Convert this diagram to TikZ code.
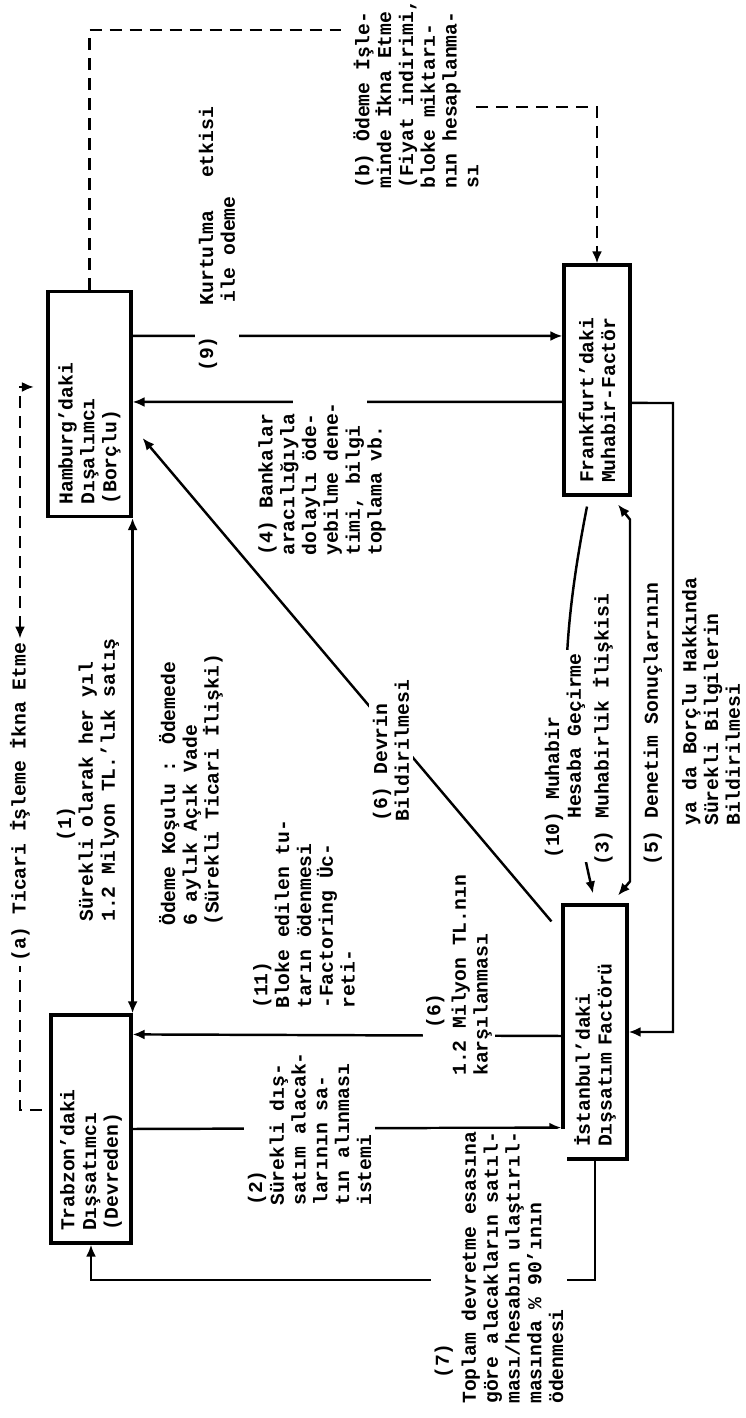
\documentclass[tikz,border=0pt]{standalone}
\usepackage{fontspec}
\setmainfont{Liberation Mono}
\usetikzlibrary{arrows.meta,calc}
\tikzset{
  box/.style={draw, line width=0.9pt, inner xsep=0.12cm, inner ysep=0pt, align=left},
  lbl/.style={align=left, inner sep=1pt, anchor=west},
  lblw/.style={lbl, fill=white},
  conn/.style={line width=0.7pt},
  dsh/.style={line width=0.7pt, dash pattern=on 0.12cm off 0.08cm},
  >={Latex[length=1.2mm,width=1mm]}
}
\begin{document}
\begin{tikzpicture}[rotate=90, transform shape, font=\fontsize{5.6}{6.2}\selectfont\bfseries]
\useasboundingbox (0,0) rectangle (14.18,7.46);
% Boxes
\node[box, text width=2.01cm, minimum height=0.83cm] (ham) at (10.14,6.565) {Hamburg'daki\\Dışalımcı\\(Borçlu)};
\node[box, text width=2.06cm, minimum height=0.66cm] (frank) at (10.38,1.49) {Frankfurt'daki\\Muhabir-Factör};
\node[box, text width=2.04cm, minimum height=0.80cm] (trab) at (2.89,6.55) {Trabzon'daki\\Dışsatımcı\\(Devreden)};
\node[box, text width=2.30cm, minimum height=0.64cm] (ist) at (3.86,1.51) {İstanbul'daki\\Dışsatım Factörü};

% Free labels
\node[lbl] (sales) at (4.92,6.58) {\hspace*{0.8cm}(1)\\Sürekli olarak her yıl\\1.2 Milyon TL.'lık satış};
\node[lbl] (terms) at (4.88,5.55) {Ödeme Koşulu : Ödemede\\6 aylık Açık Vade\\(Sürekli Ticari İlişki)};
\node[lbl] (fee) at (4.05,4.42) {(11)\\Bloke edilen tu-\\tarın ödenmesi\\-Factoring Üc-\\reti-};
\node[lbl] (check) at (8.58,4.24) {(4) Bankalar\\aracılığıyla\\dolaylı öde-\\yebilme dene-\\timi, bilgi\\toplama vb.};

% Solid connectors
\draw[conn,<->] (ham.south west) -- (trab.south east);
\draw[conn,->] (trab.south) -- ($(ist.north west)+(0.33,0)$);
\draw[conn,->] ($(ist.north)+(-0.04,0)$) -- ($(trab.south east)+(-0.21,0)$);
\draw[conn,->] (ist.west) -- (1.38,1.51) -- (1.38,6.55) -- (trab.west);
\draw[conn,<->] ($(ist.east)+(0.08,-0.23)$) -- ($(ist.east)+(0.22,-0.35)$) -- ($(frank.west)+(-0.23,-0.33)$) -- ($(frank.west)+(-0.08,-0.21)$);
\draw[conn,->] ($(frank.south)+(-0.23,0)$) -- (10.15,0.73) -- (3.86,0.73) -- (ist.south);
\coordinate (g4a) at (10.16,4.53);
\coordinate (g4b) at (10.16,3.79);
\draw[conn] ($(frank.north)+(-0.22,0)$) -- (g4b);
\draw[conn,->] (g4a) -- ($(ham.south)+(0.02,0)$);
\draw[conn,->] ($(ham.south)+(0.68,0)$) -- ($(frank.north)+(0.44,0)$);
\draw[conn,->] ($(ist.north east)+(-0.18,0.1)$) -- ($(ham.south west)+(0.8,-0.1)$);
\draw[conn,->] ($(frank.west)+(-0.1,0.1)$) to[bend right=12] ($(ist.east)+(0.1,0.02)$);

% Dashed (a)
\coordinate (a1) at (3.08,7.04);
\coordinate (a2) at (10.31,7.12);
\node[lblw] (ticari) at (4.52,7.26) {(a) Ticari İşleme İkna Etme};
\draw[dsh,<->] (a1) -- (3.08,7.26) -- (ticari) -- (10.31,7.26) -- (a2);

% Dashed (b)
\coordinate (b1) at (13.88,4.05);
\coordinate (b2) at (13.11,2.70);
\draw[dsh] (ham.east) -- (13.88,6.565) -- (b1);
\draw[dsh,->] (b2) -- (13.11,1.49) -- (frank.east);
\node[lbl] (persuade) at (12.25,3.30) {(b) Ödeme İşle-\\minde İkna Etme\\(Fiyat indirimi,\\bloke miktarı-\\nın hesaplanma-\\sı};

% Labels on the lines
\node[lblw] (req) at (2.08,4.365) {(2)\\Sürekli dış-\\satım alacak-\\larının sa-\\tın alınması\\istemi};
\node[lblw] (pay) at (3.38,2.87) {\hspace*{0.47cm}(6)\\[1pt]1.2 Milyon TL.nın\\karşılanması};
\node[lblw] (adv) at (0.10,2.47) {\hspace*{0.25cm}(7)\\[1.5pt]Toplam devretme esasına\\göre alacakların satıl-\\ması/hesabın ulaştırıl-\\masında \% 90'ının\\ödenmesi};
\node[lblw] (notice) at (5.92,3.55) {(6) Devrin\\Bildirilmesi};
\node[lblw] (disch) at (10.42,5.29) {(9)\hspace{0.31cm}Kurtulma\hspace{0.33cm}etkisi\\\hspace*{0.69cm}ile odeme};
\node[lblw] (credit) at (5.55,1.81) {(10) Muhabir\\\hspace*{0.4cm}Hesaba Geçirme};
\node[lbl] (corr) at (5.48,1.43) {(3) Muhabirlik İlişkisi};
\node[lbl] (audit) at (5.48,0.93) {(5) Denetim Sonuçlarının};
\node[lbl] (info) at (5.88,0.35) {ya da Borçlu Hakkında\\Sürekli Bilgilerin\\Bildirilmesi};
\end{tikzpicture}
\end{document}
